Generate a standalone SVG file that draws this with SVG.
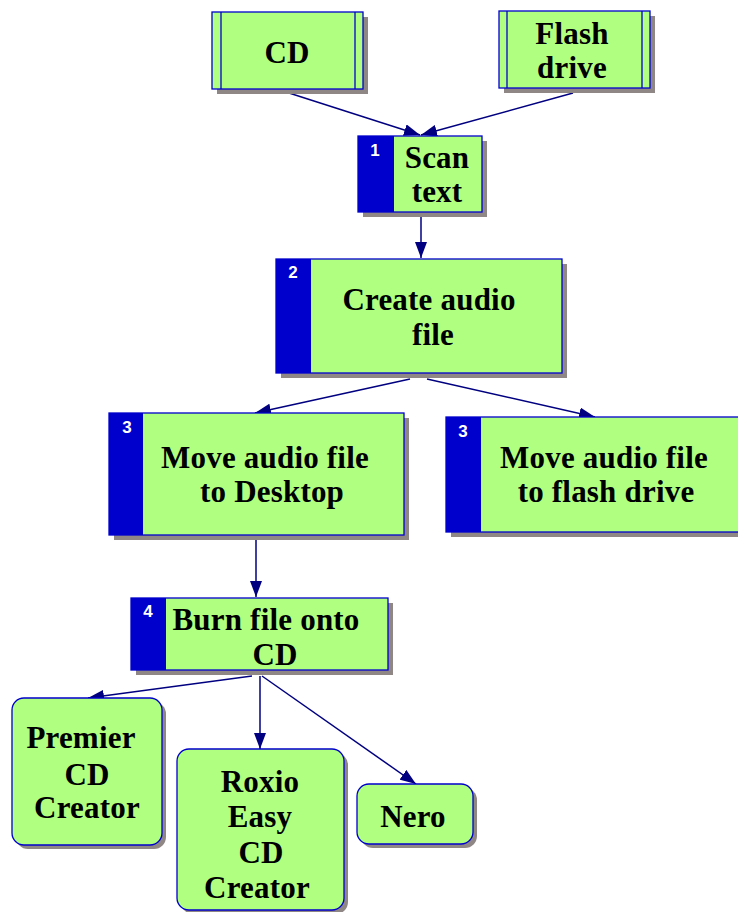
<svg xmlns="http://www.w3.org/2000/svg" width="738" height="912" viewBox="0 0 738 912">
<style>
.box{fill:#b0ff80;stroke:#0000cc;stroke-width:1.3}
.sh{fill:#8f8686}
.bar{fill:#0000cc}
.in{fill:none;stroke:#0000cc;stroke-width:1.3}
.t{font-family:"Liberation Serif","Times New Roman",serif;font-weight:bold;font-size:31px;fill:#000;text-anchor:middle;letter-spacing:0.2px}
.n{font-family:"Liberation Sans",Arial,sans-serif;font-weight:bold;font-size:17px;fill:#fff;text-anchor:middle}
.c{fill:none;stroke:#000080;stroke-width:1.5}
</style>
<defs>
<marker id="ah" viewBox="0 0 16 12" refX="16" refY="6" markerWidth="16" markerHeight="12" markerUnits="userSpaceOnUse" orient="auto">
<path d="M0,0 L16,6 L0,12 Z" fill="#000080"/>
</marker>
</defs>
<g id="connectors">
<line class="c" x1="289" y1="93" x2="420" y2="135" marker-end="url(#ah)"/>
<line class="c" x1="573" y1="93" x2="421" y2="135" marker-end="url(#ah)"/>
<line class="c" x1="421" y1="217" x2="421" y2="258" marker-end="url(#ah)"/>
<line class="c" x1="410" y1="379" x2="255" y2="413" marker-end="url(#ah)"/>
<line class="c" x1="427" y1="379" x2="595" y2="417" marker-end="url(#ah)"/>
<line class="c" x1="256" y1="540" x2="256" y2="597" marker-end="url(#ah)"/>
<line class="c" x1="252" y1="676" x2="88" y2="698" marker-end="url(#ah)"/>
<line class="c" x1="260" y1="676" x2="260" y2="749" marker-end="url(#ah)"/>
<line class="c" x1="262" y1="676" x2="416" y2="784" marker-end="url(#ah)"/>
</g>
<g id="cd">
<rect class="sh" x="217" y="17" width="151" height="77"/>
<rect class="box" x="212" y="12" width="151" height="77"/>
<line class="in" x1="221" y1="12" x2="221" y2="89"/>
<line class="in" x1="355" y1="12" x2="355" y2="89"/>
<text class="t" x="287" y="63">CD</text>
</g>
<g id="flash">
<rect class="sh" x="504" y="16" width="151" height="77"/>
<rect class="box" x="499" y="11" width="151" height="77"/>
<line class="in" x1="507" y1="11" x2="507" y2="88"/>
<line class="in" x1="642" y1="11" x2="642" y2="88"/>
<text class="t" x="572" y="44">Flash</text>
<text class="t" x="572" y="78">drive</text>
</g>
<g id="scan">
<rect class="sh" x="363" y="141" width="124" height="76"/>
<rect class="box" x="358" y="136" width="124" height="76"/>
<rect class="bar" x="358" y="136" width="36" height="76"/>
<text class="n" x="375" y="156">1</text>
<text class="t" x="437" y="168">Scan</text>
<text class="t" x="437" y="202">text</text>
</g>
<g id="create">
<rect class="sh" x="281" y="264" width="286" height="114"/>
<rect class="box" x="276" y="259" width="286" height="114"/>
<rect class="bar" x="276" y="259" width="35" height="114"/>
<text class="n" x="293" y="278">2</text>
<text class="t" x="429" y="310">Create audio</text>
<text class="t" x="433" y="345">file</text>
</g>
<g id="desktop">
<rect class="sh" x="114" y="418" width="295" height="122"/>
<rect class="box" x="109" y="413" width="295" height="122"/>
<rect class="bar" x="109" y="413" width="34" height="122"/>
<text class="n" x="127" y="433">3</text>
<text class="t" x="265" y="468">Move audio file</text>
<text class="t" x="272" y="502">to Desktop</text>
</g>
<g id="flashmove">
<rect class="sh" x="451" y="422" width="295" height="115"/>
<rect class="box" x="446" y="417" width="295" height="115"/>
<rect class="bar" x="446" y="417" width="35" height="115"/>
<text class="n" x="463" y="437">3</text>
<text class="t" x="604" y="468">Move audio file</text>
<text class="t" x="606" y="502">to flash drive</text>
</g>
<g id="burn">
<rect class="sh" x="136" y="603" width="257" height="72"/>
<rect class="box" x="131" y="598" width="257" height="72"/>
<rect class="bar" x="131" y="598" width="35" height="72"/>
<text class="n" x="148" y="617">4</text>
<text class="t" x="266" y="630">Burn file onto</text>
<text class="t" x="275" y="665">CD</text>
</g>
<g id="premier">
<rect class="sh" x="16" y="702" width="150" height="147" rx="12"/>
<rect class="box" x="12" y="698" width="150" height="147" rx="12"/>
<text class="t" x="81" y="748">Premier</text>
<text class="t" x="87" y="785">CD</text>
<text class="t" x="87" y="818">Creator</text>
</g>
<g id="roxio">
<rect class="sh" x="181" y="753" width="167" height="161" rx="12"/>
<rect class="box" x="177" y="749" width="167" height="161" rx="12"/>
<text class="t" x="260" y="792">Roxio</text>
<text class="t" x="260" y="827">Easy</text>
<text class="t" x="261" y="863">CD</text>
<text class="t" x="257" y="898">Creator</text>
</g>
<g id="nero">
<rect class="sh" x="361" y="788" width="116" height="60" rx="12"/>
<rect class="box" x="357" y="784" width="116" height="60" rx="12"/>
<text class="t" x="413" y="827">Nero</text>
</g>
</svg>
